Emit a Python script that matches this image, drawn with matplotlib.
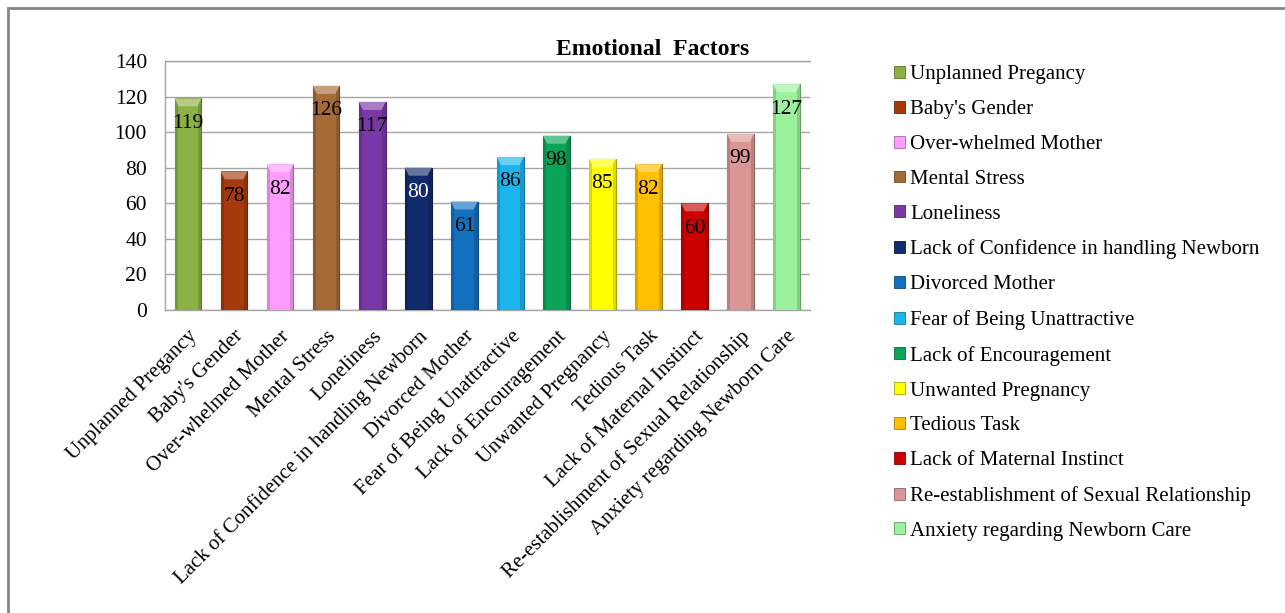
import matplotlib.pyplot as plt
from matplotlib.patches import Rectangle, Patch, Polygon
from matplotlib.colors import to_rgb

plt.rcParams['font.family'] = ['Liberation Serif', 'DejaVu Serif']

factors = ["Unplanned Pregancy", "Baby's Gender", "Over-whelmed Mother", "Mental Stress",
           "Loneliness", "Lack of Confidence in handling Newborn", "Divorced Mother",
           "Fear of Being Unattractive", "Lack of Encouragement", "Unwanted Pregnancy",
           "Tedious Task", "Lack of Maternal Instinct",
           "Re-establishment of Sexual Relationship", "Anxiety regarding Newborn Care"]
counts = [119, 78, 82, 126, 117, 80, 61, 86, 98, 85, 82, 60, 99, 127]
colors = ["#8bb043", "#a63a0c", "#ff9cff", "#a56b36", "#7a37a8", "#112a6b", "#1370be",
          "#1ab5ee", "#0aa458", "#ffff00", "#ffc000", "#cc0000", "#d99694", "#9cf29c"]
label_colors = ["black"] * 5 + ["white"] + ["black"] * 8


def shade(c, f):
    r, g, b = to_rgb(c)
    if f > 0:
        return (r + (1 - r) * f, g + (1 - g) * f, b + (1 - b) * f)
    return (r * (1 + f), g * (1 + f), b * (1 + f))


fig = plt.figure(figsize=(12.85, 6.13), dpi=100)
ax = fig.add_axes([0.1284, 0.4943, 0.5016, 0.4062])

x = range(len(factors))
bars = ax.bar(x, counts, width=0.58, color=colors, edgecolor=[shade(c, -0.35) for c in colors],
              linewidth=0.8, zorder=3)

# bevelled look: light wedge on top, darker side strips
for b, c in zip(bars, colors):
    x0, w, h = b.get_x(), b.get_width(), b.get_height()
    ax.add_patch(Polygon([(x0, h), (x0 + w, h), (x0 + w * 0.85, h - 4.5), (x0 + w * 0.15, h - 4.5)],
                         closed=True, facecolor=shade(c, 0.35), edgecolor="none", zorder=3.5))
    ax.add_patch(Rectangle((x0, 0), w * 0.12, h, facecolor=shade(c, -0.15), edgecolor="none", zorder=3.4))
    ax.add_patch(Rectangle((x0 + w * 0.88, 0), w * 0.12, h, facecolor=shade(c, -0.15),
                           edgecolor="none", zorder=3.4))

for xi, v, tc in zip(x, counts, label_colors):
    ax.text(xi, v - 14, str(v), ha="center", va="center", fontsize=15.5, color=tc, zorder=4)

ax.set_xlim(-0.5, len(factors) - 0.5)
ax.set_ylim(0, 140)
ax.set_yticks(range(0, 141, 20))
ax.yaxis.grid(True, color="#a6a6a6", linewidth=1.0, zorder=0)
ax.tick_params(axis="y", length=0, labelsize=15.5, pad=13)
ax.tick_params(axis="x", length=0, labelsize=15, pad=12)
ax.set_xticks(list(x))
ax.set_xticklabels(factors, rotation=45, ha="right", rotation_mode="anchor")
for s in ax.spines.values():
    s.set_color("#a6a6a6")
    s.set_linewidth(1.0)
ax.spines["right"].set_visible(False)

fig.text(0.508, 0.92, "Emotional  Factors", fontsize=17, fontweight="bold", ha="center", va="center")

handles = [Patch(facecolor=c, edgecolor=shade(c, -0.35), linewidth=0.6) for c in colors]
fig.legend(handles, factors, loc="upper left", bbox_to_anchor=(0.6895, 0.907),
           frameon=False, fontsize=15, handlelength=0.5, handleheight=0.5,
           handletextpad=0.25, labelspacing=0.76, borderaxespad=0)

# outer chart frame
fig.patches.append(Rectangle((8 / 1285, -0.05), 1.1, 1 - 8 / 613 + 0.05, transform=fig.transFigure,
                             fill=False, edgecolor="#858585", linewidth=2))

fig.savefig("out.png", dpi=100)
